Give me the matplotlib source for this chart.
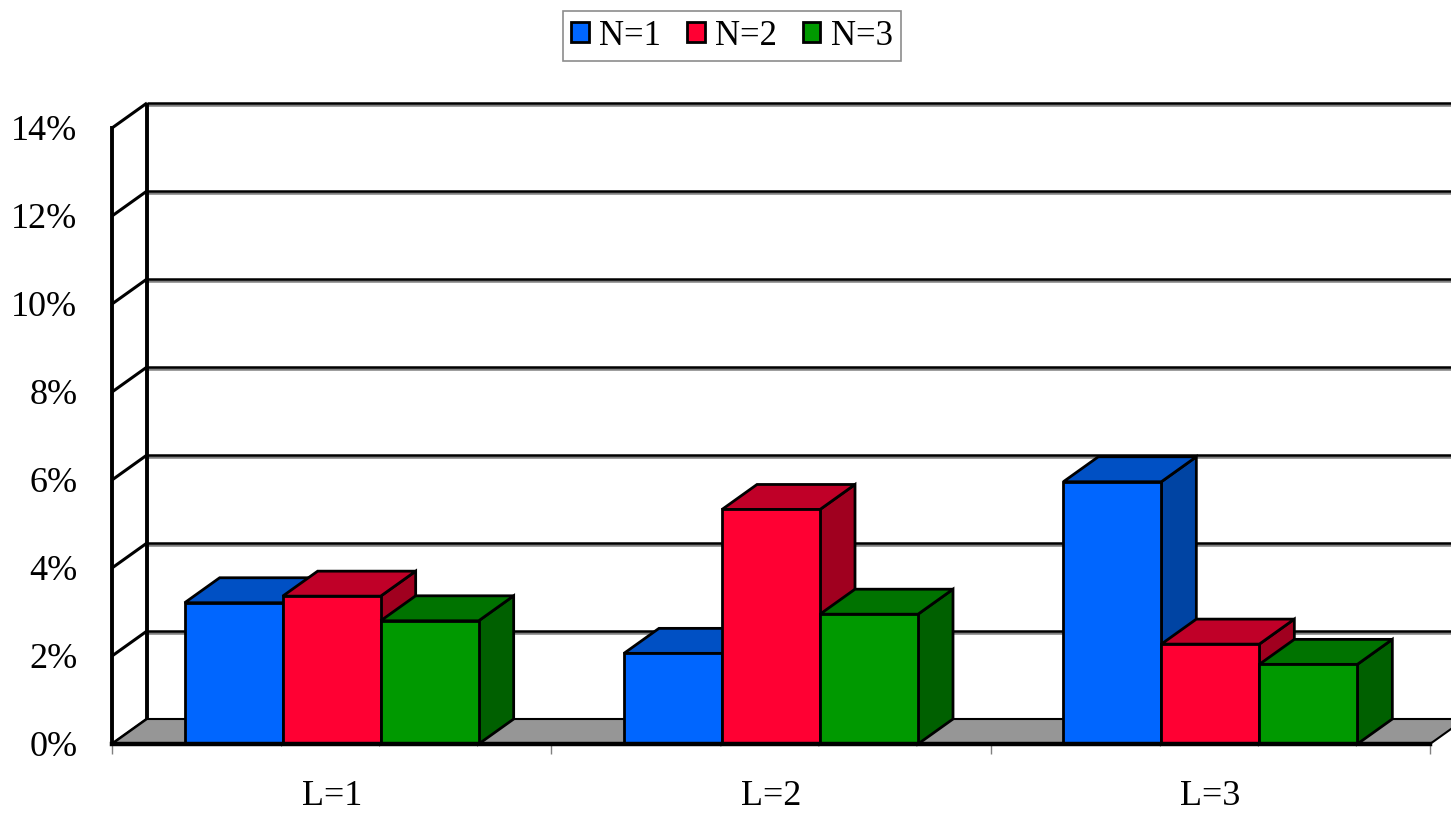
import matplotlib
matplotlib.use('Agg')
import matplotlib.pyplot as plt
from matplotlib.patches import Polygon, Patch
import matplotlib.patheffects as pe

# ---------------- data ----------------
categories = ['L=1', 'L=2', 'L=3']
series_names = ['N=1', 'N=2', 'N=3']
n1_values = [3.21, 2.06, 5.96]
n2_values = [3.36, 5.33, 2.27]
n3_values = [2.80, 2.95, 1.81]
y_ticks = [0, 2, 4, 6, 8, 10, 12, 14]
y_tick_labels = ['0%', '2%', '4%', '6%', '8%', '10%', '12%', '14%']

# ---------------- style ----------------
front_colors = ['#0066FF', '#FF0033', '#009900']
top_colors = ['#0050C4', '#C00028', '#007300']
side_colors = ['#0044A3', '#A0001F', '#006000']

plt.rcParams['font.family'] = ['Liberation Serif', 'DejaVu Serif']
plt.rcParams['font.size'] = 26

W, H = 1451, 815
fig = plt.figure(figsize=(W / 100, H / 100), dpi=100)
ax = fig.add_axes([112 / W, (H - 744) / H, (1430 - 112) / W, (744 - 128) / H])
ax.set_xlim(-0.5, 2.5)
ax.set_ylim(0, 14)

# depth offsets (data units)
px_per_x = (1430 - 112) / 3.0
px_per_y = (744 - 128) / 14.0
dx = 35 / px_per_x
dy = 25 / px_per_y
bw = 98 / px_per_x

x0, x1 = -0.5, 2.5

# floor
floor = Polygon([(x0, 0), (x1, 0), (x1 + dx, dy), (x0 + dx, dy)], closed=True,
                facecolor='#969696', edgecolor='black', lw=1.5, zorder=1, clip_on=False)
ax.add_patch(floor)

# back wall gridlines
shadow = [pe.SimpleLineShadow(offset=(0, -1.5), shadow_color='#808080', alpha=1.0), pe.Normal()]
for t in y_ticks:
    ax.plot([x0 + dx, x1 + dx + 0.2], [t + dy, t + dy], color='black', lw=1.8,
            zorder=0.5, clip_on=False, path_effects=shadow, solid_capstyle='butt')
    ax.plot([x0, x0 + dx], [t, t + dy], color='black', lw=2.2, zorder=0.6,
            clip_on=False, solid_capstyle='butt')
ax.plot([x0 + dx, x0 + dx], [dy, 14 + dy], color='black', lw=2.8, zorder=0.7,
        clip_on=False, solid_capstyle='butt')

# bars
series = [n1_values, n2_values, n3_values]
z = 2
for i, cat in enumerate(categories):
    for j, vals in enumerate(series):
        v = vals[i]
        left = i + (j - 1) * bw - bw / 2
        right = left + bw
        side = Polygon([(right, 0), (right + dx, dy), (right + dx, v + dy), (right, v)],
                       closed=True, facecolor=side_colors[j], edgecolor='black', lw=2,
                       zorder=z, clip_on=False, joinstyle='miter')
        top = Polygon([(left, v), (right, v), (right + dx, v + dy), (left + dx, v + dy)],
                      closed=True, facecolor=top_colors[j], edgecolor='black', lw=2,
                      zorder=z, clip_on=False, joinstyle='miter')
        front = Polygon([(left, 0), (right, 0), (right, v), (left, v)], closed=True,
                        facecolor=front_colors[j], edgecolor='black', lw=2,
                        zorder=z + 0.1, clip_on=False, joinstyle='miter')
        ax.add_patch(side)
        ax.add_patch(top)
        ax.add_patch(front)
        z += 0.2

# axes styling
for s in ['top', 'right']:
    ax.spines[s].set_visible(False)
ax.spines['left'].set_linewidth(2.8)
ax.spines['bottom'].set_linewidth(3.2)
ax.spines['left'].set_zorder(10)
ax.spines['bottom'].set_zorder(10)
ax.patch.set_visible(False)

ax.set_yticks(y_ticks, labels=y_tick_labels)
ax.tick_params(axis='y', length=0, pad=25)
ax.set_xticks(range(len(categories)), labels=categories)
ax.set_xticks([-0.5, 0.5, 1.5, 2.5], minor=True)
ax.tick_params(axis='x', which='major', length=0, pad=26)
ax.tick_params(axis='x', which='minor', length=7, width=1, color='#808080', direction='out')

# legend
handles = [Patch(facecolor=c, edgecolor='black', lw=2) for c in front_colors]
leg = fig.legend(handles, series_names, loc='upper center', ncol=3,
                 bbox_to_anchor=(732 / W, 1 - 11 / H), frameon=True, fancybox=False,
                 edgecolor='#707070', handlelength=0.5, handleheight=0.5,
                 handletextpad=0.3, columnspacing=0.75, borderpad=0.25,
                 borderaxespad=0, fontsize=25)
leg.get_frame().set_linewidth(1.2)

fig.savefig('out.png', dpi=100)
